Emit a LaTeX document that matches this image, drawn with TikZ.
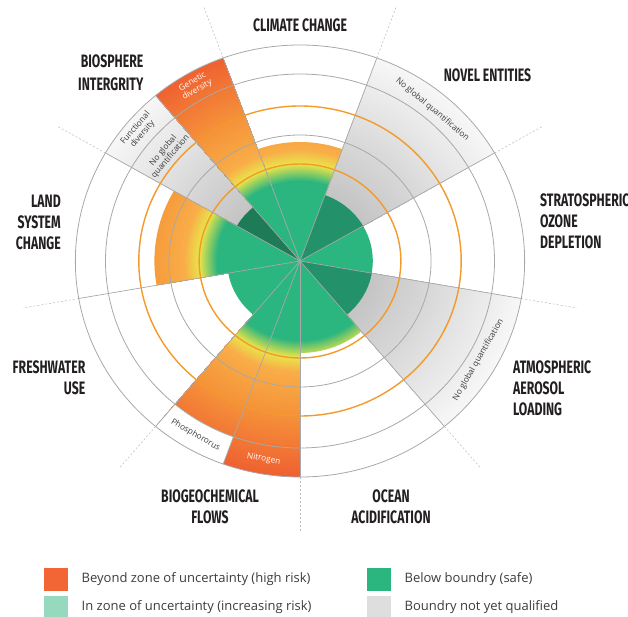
\documentclass[tikz,border=0pt]{standalone}
\usepackage{fontspec}
\setmainfont{Open Sans}
\newfontfamily\headfont[FakeStretch=0.68]{Fira Sans}

\definecolor{safegreen}{HTML}{2BB57F}
\definecolor{darkgreen}{HTML}{23926A}
\definecolor{deepgreen}{HTML}{1E7B57}
\definecolor{zoneyellow}{HTML}{EAE44A}
\definecolor{lightorange}{HTML}{F9AD48}
\definecolor{midorange}{HTML}{F5963A}
\definecolor{highred}{HTML}{EF6131}
\definecolor{graydark}{HTML}{C4C4C4}
\definecolor{graylight}{HTML}{F7F7F7}
\definecolor{ringgray}{HTML}{A8A8A8}
\definecolor{limitorange}{HTML}{F39A2B}
\definecolor{riskorange}{HTML}{F26535}
\definecolor{zonemint}{HTML}{96D9BE}
\definecolor{boxgray}{HTML}{DEDEDE}
\definecolor{inkblack}{HTML}{231F20}
\definecolor{inkgray}{HTML}{3C3C3C}

% colour of the ring at radius #1 (green -> yellow -> orange -> red)
\newcommand{\setringcolor}[1]{%
  \ifdim#1pt<80pt \colorlet{ringfill}{safegreen}%
  \else\ifdim#1pt<97pt \pgfmathsetmacro\mixpc{(#1-80)*100/17}\colorlet{ringfill}{zoneyellow!\mixpc!safegreen}%
  \else\ifdim#1pt<112pt \pgfmathsetmacro\mixpc{(#1-97)*100/15}\colorlet{ringfill}{lightorange!\mixpc!zoneyellow}%
  \else\ifdim#1pt<150pt \pgfmathsetmacro\mixpc{(#1-112)*100/38}\colorlet{ringfill}{midorange!\mixpc!lightorange}%
  \else \pgfmathsetmacro\mixpc{(#1-150)*100/66}\colorlet{ringfill}{highred!\mixpc!midorange}%
  \fi\fi\fi\fi}
% grey bands (no global quantification)
\newcommand{\setgraycolor}[1]{%
  \pgfmathsetmacro\mixpc{(#1-70)*100/146}\colorlet{ringfill}{graylight!\mixpc!graydark}}

\begin{document}
\begin{tikzpicture}[x=1pt,y=1pt,
    heading/.style={font=\headfont\bfseries\fontsize{18}{21}\selectfont,text=inkblack,inner sep=0pt},
    tag/.style={font=\fontsize{8.3}{9.3}\selectfont,text=inkgray,align=center,inner sep=0pt},
    ringline/.style={draw=ringgray,line width=0.8pt},
    limitline/.style={draw=limitorange,line width=1.4pt},
    spoke/.style={draw=ringgray,line width=0.7pt},
    keybox/.style={minimum width=24pt,minimum height=23pt,inner sep=0pt},
    keytext/.style={anchor=west,font=\fontsize{13}{15}\selectfont,text=inkgray,inner sep=0pt}]
  \useasboundingbox (-300,-356) rectangle (328,261);

  \begin{scope}[xscale=1.04]
    \coordinate (Centre) at (0,0);

    % grey wedges, light towards the rim
    \foreach \from/\to in {30/70,310/350,130/150}{%
      \begin{scope}
        \clip (Centre) -- (\from:216) arc[start angle=\from,end angle=\to,radius=216] -- cycle;
        \foreach \r in {216,215,...,71}{%
          \setgraycolor{\r}
          \fill[ringfill] (Centre) circle (\r);
        }
      \end{scope}
    }

    % wedges past the boundary: climate, land, genetic, flows, ocean
    \foreach \from/\to/\rmax in {70/110/119,150/190/140,110/130/216,230/270/216,270/310/92}{%
      \pgfmathtruncatemacro\rnext{\rmax-1}
      \begin{scope}
        \clip (Centre) -- (\from:\rmax) arc[start angle=\from,end angle=\to,radius=\rmax] -- cycle;
        \foreach \r in {\rmax,\rnext,...,71}{%
          \setringcolor{\r}
          \fill[ringfill] (Centre) circle (\r);
        }
      \end{scope}
    }
    % phosphorus stops at the fourth ring
    \fill[white] (230:187) arc[start angle=230,end angle=250,radius=187]
      -- (250:216) arc[start angle=250,end angle=230,radius=216] -- cycle;

    % safe core, drawn last over the wedges
    \fill[safegreen] (Centre) circle (70);
    \fill[darkgreen] (Centre) -- (30:70) arc[start angle=30,end angle=70,radius=70] -- cycle;
    \fill[darkgreen] (Centre) -- (310:70) arc[start angle=310,end angle=350,radius=70] -- cycle;
    \fill[deepgreen] (Centre) -- (130:70) arc[start angle=130,end angle=150,radius=70] -- cycle;

    % rings
    \foreach \r in {126,187,216}
      \draw[ringline] (Centre) circle (\r);
    \foreach \r in {97,155}
      \draw[limitline] (Centre) circle (\r);

    % spokes
    \foreach \a in {30,70,...,350}{%
      \draw[spoke] (Centre) -- (\a:216);
      \draw[spoke,draw=ringgray!80,line width=0.5pt,dash pattern=on 2pt off 2pt] (\a:216) -- (\a:270);
    }
    \foreach \a in {130,250}
      \draw[spoke] (Centre) -- (\a:216);

    % texts inside the wedges
    \node[tag,text=white,rotate=30] (genetic) at (120:202) {Genetic\\diversity};
    \node[tag,rotate=50] (functional) at (140:202) {Functional\\diversity};
    \node[tag,rotate=50] (noquantbio) at (140:167) {No global\\quantification};
    \node[tag,rotate=-40] (noquantnovel) at (50:198) {No global quantification};
    \node[tag,rotate=60] (noquantaero) at (330:198) {No global quantification};
    \node[tag,rotate=-30] (phosphorus) at (240:201) {Phosphororus};
    \node[tag,text=white,rotate=-10] (nitrogen) at (260:201) {Nitrogen};
  \end{scope}

  % boundary names
  \node[heading] (climate) at (0,236) {CLIMATE CHANGE};
  \node[heading,align=right,anchor=east] (biosphere) at (-156.5,188) {BIOSPHERE\\[2pt]INTERGRITY};
  \node[heading] (novel) at (187.5,186) {NOVEL ENTITIES};
  \node[heading,align=left,anchor=west] (ozone) at (240,40) {STRATOSPHERIC\\OZONE\\DEPLETION};
  \node[heading,align=left,anchor=west] (aerosol) at (213,-127) {ATMOSPHERIC\\AEROSOL\\LOADING};
  \node[heading,align=center] (ocean) at (91,-246) {OCEAN\\ACIDIFICATION};
  \node[heading,align=center] (flows) at (-90,-246) {BIOGEOCHEMICAL\\FLOWS};
  \node[heading,align=right,anchor=east] (freshwater) at (-214.5,-117) {FRESHWATER\\USE};
  \node[heading,align=right,anchor=east] (land) at (-239,39) {LAND\\SYSTEM\\CHANGE};

  % legend
  \node[keybox,fill=riskorange] (keyrisk) at (-244,-318.5) {};
  \node[keybox,fill=zonemint] (keyzone) at (-244,-346) {};
  \node[keybox,fill=safegreen] (keysafe) at (79,-318.5) {};
  \node[keybox,fill=boxgray] (keygray) at (79,-346) {};
  \node[keytext] (riskText) at (-218.5,-318) {Beyond zone of uncertainty (high risk)};
  \node[keytext] (zoneText) at (-218.5,-346) {In zone of uncertainty (increasing risk)};
  \node[keytext] (safeText) at (104.4,-318) {Below boundry (safe)};
  \node[keytext] (grayText) at (104.4,-346) {Boundry not yet qualified};
\end{tikzpicture}
\end{document}
